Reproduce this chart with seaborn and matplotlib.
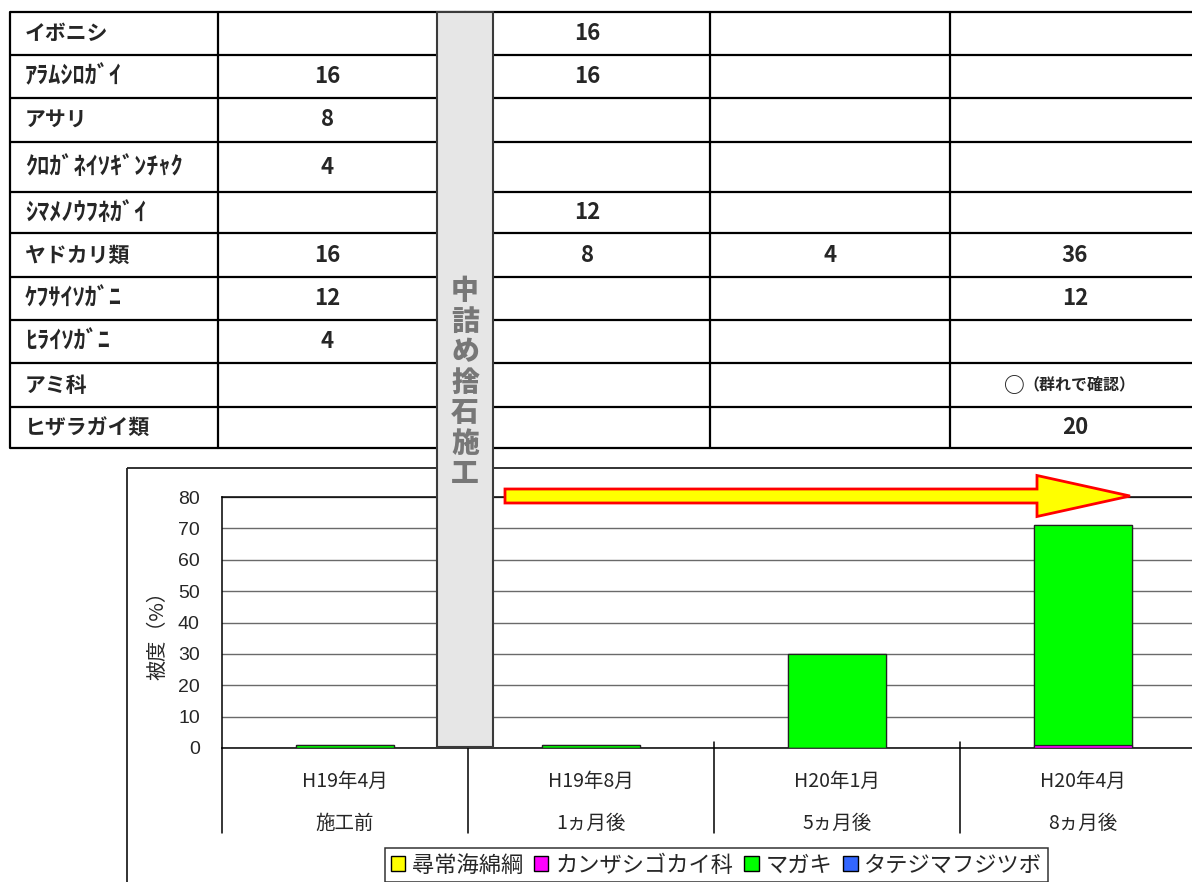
import matplotlib
matplotlib.use("Agg")
import matplotlib.pyplot as plt
import matplotlib.transforms as mtransforms
from matplotlib import patches
from matplotlib.patches import Patch
import numpy as np
import pandas as pd
import seaborn as sns

# ---------------- data ----------------
species = ["イボニシ", "ｱﾗﾑｼﾛｶﾞｲ", "アサリ", "ｸﾛｶﾞﾈｲｿｷﾞﾝﾁｬｸ", "ｼﾏﾒﾉｳﾌﾈｶﾞｲ",
           "ヤドカリ類", "ｹﾌｻｲｿｶﾞﾆ", "ﾋﾗｲｿｶﾞﾆ", "アミ科", "ヒザラガイ類"]
count_h19_4 = ["", "16", "8", "4", "", "16", "12", "4", "", ""]
count_h19_8 = ["16", "16", "", "", "12", "8", "", "", "", ""]
count_h20_1 = ["", "", "", "", "", "4", "", "", "", ""]
count_h20_4 = ["", "", "", "", "", "36", "12", "", "○（群れで確認）", "20"]

periods = ["H19年4月", "H19年8月", "H20年1月", "H20年4月"]
elapsed = ["施工前", "1ヵ月後", "5ヵ月後", "8ヵ月後"]

series_names = ["尋常海綿綱", "カンザシゴカイ科", "マガキ", "タテジマフジツボ"]
series_colors = ["#FFFF00", "#FF00FF", "#00FF00", "#3366FF"]
cov_kaimen = [0, 0, 0, 0]
cov_kanzashi = [0, 0, 0, 1]
cov_magaki = [1, 1, 30, 70]
cov_fujitsubo = [0, 0, 0, 0]

yticks = [0, 10, 20, 30, 40, 50, 60, 70, 80]
ylabel = "被度（%）"
pillar_text = "中詰め捨石施工"

# ---------------- figure ----------------
sns.set_style("white")
plt.rcParams["font.family"] = ["Noto Sans CJK JP", "DejaVu Sans"]

W, H = 1192, 882
fig = plt.figure(figsize=(W / 100, H / 100), dpi=100)
fig.patch.set_facecolor("white")

# chart axes (pixel layout: left 222, bottom 748, top 497, right 1206)
ax = fig.add_axes([222 / W, (H - 748) / H, 984 / W, 251 / H], zorder=2)

series_vals = [cov_kaimen, cov_kanzashi, cov_magaki, cov_fujitsubo]
cums = np.cumsum(np.array(series_vals, dtype=float), axis=0)
df = pd.DataFrame({"period": periods})
for i in range(len(series_names) - 1, -1, -1):
    df["cum"] = cums[i]
    sns.barplot(data=df, x="period", y="cum", order=periods, color=series_colors[i],
                saturation=1, width=0.395, edgecolor="#222222", linewidth=0.9,
                errorbar=None, ax=ax, zorder=3)

ax.set_xlim(-0.5, 3.5)
ax.set_ylim(0, 80)
ax.set_yticks(yticks)
ax.set_yticklabels([str(t) for t in yticks], fontsize=14, family=["Liberation Sans"])
ax.tick_params(axis="y", direction="in", length=6, width=1, color="black", pad=16)
ax.set_xticks(range(len(periods)))
ax.set_xticklabels([""] * len(periods))
ax.tick_params(axis="x", length=0)
ax.set_xlabel("")
ax.set_ylabel(ylabel, fontsize=14.5)
ax.yaxis.set_label_coords((168 - 222) / 984, 0.47)
ax.yaxis.grid(True, color="#6a6a6a", linewidth=1)
ax.set_axisbelow(True)
for side in ["left", "bottom", "top"]:
    ax.spines[side].set_visible(True)
    ax.spines[side].set_color("black")
    ax.spines[side].set_linewidth(1.1)
ax.spines["right"].set_visible(False)

# multi-level category labels and dividers
tr = mtransforms.blended_transform_factory(ax.transData, ax.transAxes)
for i, (p, e) in enumerate(zip(periods, elapsed)):
    ax.text(i, (748 - 781) / 251, p, transform=tr, ha="center", va="center", fontsize=14)
    ax.text(i, (748 - 823) / 251, e, transform=tr, ha="center", va="center", fontsize=14)
for b in np.arange(-0.5, len(periods), 1.0):
    top = 0.0 if b < 0 else 6 / 251
    ax.plot([b, b], [top, -85 / 251], transform=tr, color="black", lw=1.1,
            clip_on=False, zorder=4)

# overlay in pixel coordinates
ov = fig.add_axes([0, 0, 1, 1], zorder=5)
ov.set_xlim(0, W)
ov.set_ylim(H, 0)
ov.axis("off")
ov.patch.set_alpha(0)

# chart outer frame
ov.add_patch(patches.Rectangle((127, 468), W, H, fill=False, ec="#222222", lw=1.3, zorder=1))

# table
row_edges = [12, 55, 98, 142, 192, 233, 277, 320, 363, 407, 448]
col_edges = [10, 218, 465, 710, 950, 1200]
col_centers = [327, 587, 830, 1075]
for y in row_edges:
    ov.plot([10, W], [y, y], color="black", lw=1.6, zorder=2, solid_capstyle="butt")
for x in col_edges:
    ov.plot([x, x], [row_edges[0], row_edges[-1]], color="black", lw=1.6, zorder=2)


def is_halfwidth(s):
    return any(0xFF61 <= ord(ch) <= 0xFF9F for ch in s)


cols = [count_h19_4, count_h19_8, count_h20_1, count_h20_4]
for r, name in enumerate(species):
    yc = (row_edges[r] + row_edges[r + 1]) / 2
    ov.text(25, yc, name, ha="left", va="center",
            fontsize=17.5 if is_halfwidth(name) else 15, fontweight="bold", zorder=3)
    for c, col in enumerate(cols):
        val = col[r]
        if not val:
            continue
        if val.startswith("○"):
            ov.text(1025, yc, "○", ha="right", va="center", fontsize=15,
                    fontweight="bold", zorder=3)
            ov.text(1023, yc, val[1:], ha="left", va="center", fontsize=11.5,
                    fontweight="bold", zorder=3)
        else:
            ov.text(col_centers[c], yc, val, ha="center", va="center", fontsize=16,
                    fontweight="bold", zorder=3)

# construction pillar
ov.add_patch(patches.Rectangle((437, 12), 56, 735, fc="#e6e6e6", ec="#3a3a3a", lw=1.5, zorder=6))
for k, ch in enumerate(pillar_text):
    ov.text(465, 291 + 30.5 * k, ch, ha="center", va="center", fontsize=20,
            fontweight="heavy", color="#777777", zorder=7)

# arrow
ov.add_patch(patches.FancyArrow(505, 496, 625, 0, width=14, head_width=41, head_length=93,
                                length_includes_head=True, fc="#FFFF00", ec="#FF0000",
                                lw=2, zorder=6))

# legend
handles = [Patch(facecolor=c, edgecolor="black", label=n) for n, c in zip(series_names, series_colors)]
leg = fig.legend(handles=handles, loc="upper left", bbox_to_anchor=(385 / W, 1 - 848 / H),
                 ncol=4, frameon=True, fancybox=False, edgecolor="black", fontsize=16,
                 handlelength=0.65, handleheight=0.65, handletextpad=0.3,
                 columnspacing=0.5, borderpad=0.25, borderaxespad=0)
leg.get_frame().set_linewidth(1.1)

fig.savefig("out.png", dpi=100, facecolor="white")
